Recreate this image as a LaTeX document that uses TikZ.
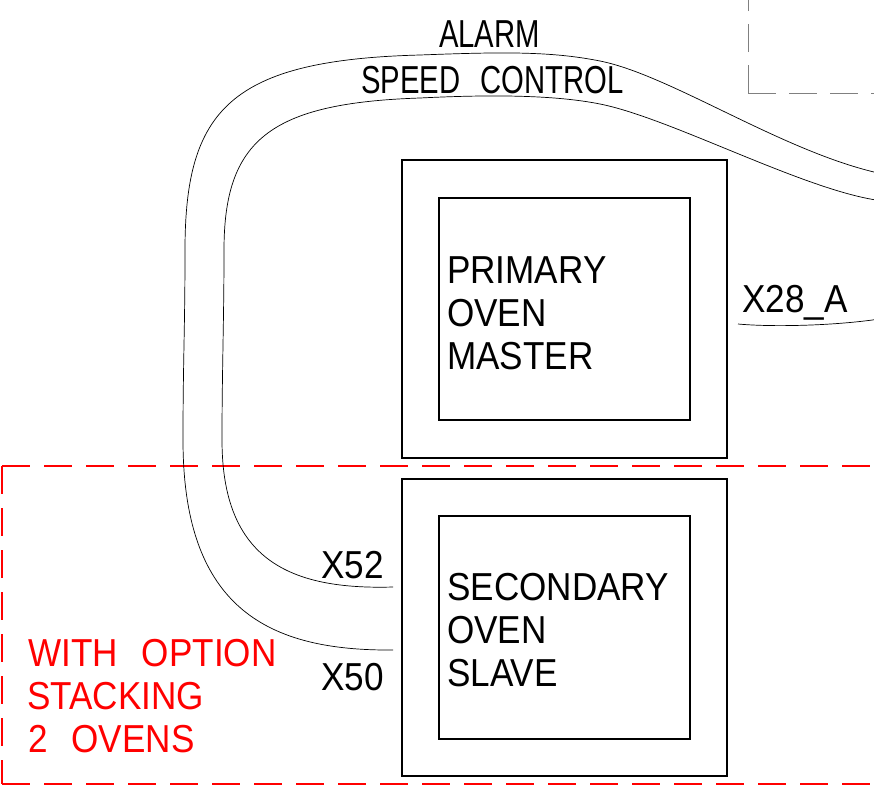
\documentclass[tikz,border=0pt]{standalone}
\usepackage{fontspec}
\setmainfont{Liberation Sans}
\newfontfamily\cadA{Liberation Sans}[FakeStretch=0.9]
\newfontfamily\cadB{Liberation Sans}[FakeStretch=0.75]
\newcommand{\wsp}{\hspace{24pt}}
\begin{document}
\begin{tikzpicture}[x=1pt,y=-1pt,
  box/.style={draw=black, line width=1.6pt, inner sep=0pt, anchor=north west},
  wire/.style={draw=black, line width=0.7pt},
  reddash/.style={draw=red, line width=1.6pt, dash pattern=on 28pt off 14pt},
  graydash/.style={draw=gray, line width=1pt, dash pattern=on 28pt off 13pt},
  lbl/.style={anchor=base west, inner sep=0pt, font=\cadA\fontsize{39}{45}\selectfont},
  toplbl/.style={lbl, font=\cadB\fontsize{39}{45}\selectfont},
  redlbl/.style={lbl, text=red}]
\useasboundingbox (0,0) rectangle (874,787);
\fill[white] (0,0) rectangle (874,787);

% grey dashed box (top right)
\coordinate (gc) at (748,93);
\coordinate (gt) at (748,-5);
\coordinate (gr) at (880,93);
\draw[graydash] (gc) -- (gt);
\draw[graydash] (gc) -- (gr);

% red dashed option box
\coordinate (rtl) at (2,466);
\coordinate (rbl) at (2,784);
\coordinate (rtr) at (890,466);
\coordinate (rbr) at (890,784);
\draw[reddash] (rtl) -- (rtr);
\draw[reddash] (rtl) -- (rbl);
\draw[reddash] (rbl) -- (rbr);

% oven boxes
\node[box, minimum width=325pt, minimum height=298pt] (pout) at (401,159) {};
\node[box, minimum width=251pt, minimum height=222pt] (pin) at (438,197) {};
\node[box, minimum width=325pt, minimum height=297pt] (sout) at (401,478) {};
\node[box, minimum width=251pt, minimum height=223pt] (sin) at (438,515) {};

% box texts
\node[lbl] (t1) at (447,283) {PRIMARY};
\node[lbl] (t2) at (447,326) {OVEN};
\node[lbl] (t3) at (447,369) {MASTER};
\node[lbl] (t4) at (447,600) {SECONDARY};
\node[lbl] (t5) at (447,643) {OVEN};
\node[lbl] (t6) at (447,686) {SLAVE};

% wire labels
\node[toplbl] (alarm) at (439,47) {ALARM};
\node[toplbl] (speed) at (361,93) {SPEED\hspace{20pt}CONTROL};
\node[lbl] (x28) at (742,312) {X28\_A};
\node[lbl] (x52) at (321,578) {X52};
\node[lbl] (x50) at (321,690) {X50};

% red option text
\node[redlbl] (r1) at (28,666) {WITH\wsp OPTION};
\node[redlbl] (r2) at (27,709) {STACKING};
\node[redlbl] (r3) at (28,752) {2\wsp OVENS};

% wires
\coordinate (x50end) at (393,650);
\coordinate (x52end) at (393,587);
\coordinate (outR) at (876,172.5);
\coordinate (inR) at (876,200);
\draw[wire] (x50end) .. controls (270,651) and (183,610) .. (183,440)
  .. controls (183,360) and (185,330) .. (185,250)
  .. controls (185,110) and (230,60) .. (420,55)
  .. controls (500,52) and (550,51) .. (600,61)
  .. controls (670,75) and (780,150) .. (outR);
\draw[wire] (x52end) .. controls (290,590) and (222,560) .. (222,440)
  .. controls (222,370) and (224,320) .. (224,250)
  .. controls (224,140) and (270,103) .. (420,98)
  .. controls (480,95) and (550,94) .. (600,104)
  .. controls (670,118) and (800,188) .. (inR);
\coordinate (x28s) at (738,324);
\coordinate (x28e) at (876,319.5);
\draw[wire] (x28s) .. controls (770,327) and (830,326) .. (x28e);
\end{tikzpicture}
\end{document}
